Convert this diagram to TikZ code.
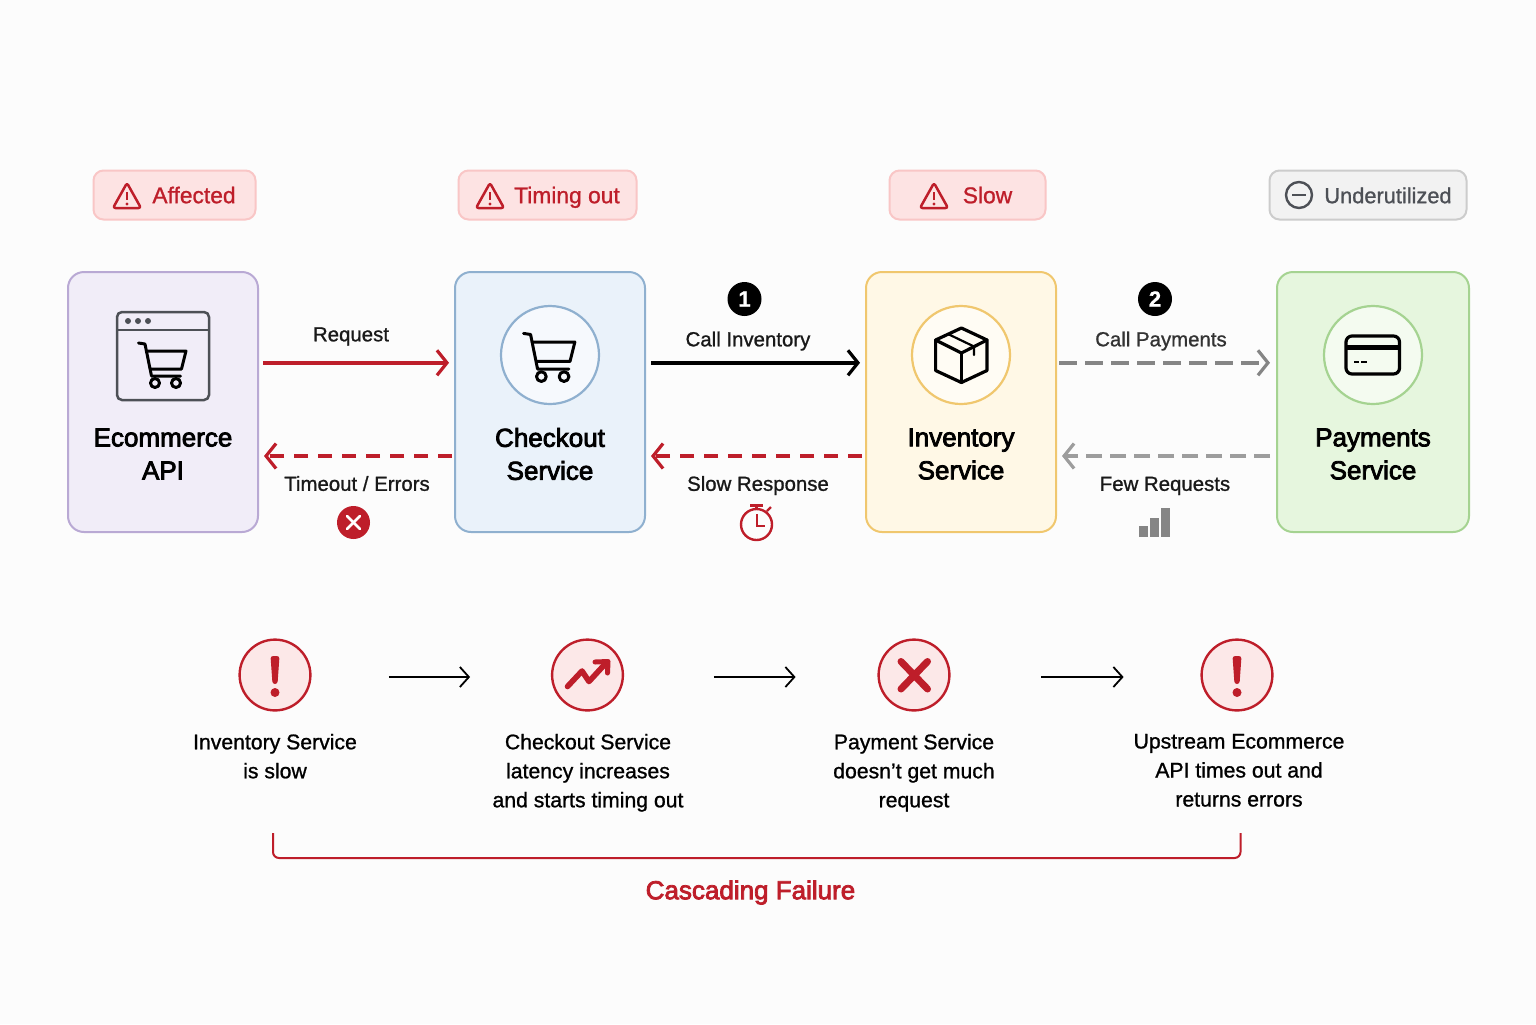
\documentclass[tikz,border=0pt]{standalone}
\usepackage{fontspec}
\usepackage{tikz}
\usetikzlibrary{arrows.meta}
\setmainfont{Liberation Sans}[FakeBold=1]
\newfontfamily\titlefont{Liberation Sans}[FakeBold=3]
\definecolor{alertred}{HTML}{BE1E2A}
\definecolor{softred}{HTML}{FCE8E8}
\definecolor{badgered}{HTML}{FDE3E3}
\definecolor{badgeline}{HTML}{F9C6C6}
\definecolor{midgray}{HTML}{858585}
\definecolor{inkgray}{HTML}{4D5056}
\definecolor{ecomfill}{HTML}{F1EDF8}
\definecolor{ecomline}{HTML}{B9A9D4}
\definecolor{chkfill}{HTML}{EAF2FA}
\definecolor{chkline}{HTML}{8FB0CF}
\definecolor{invfill}{HTML}{FFF8E6}
\definecolor{invline}{HTML}{F0C76E}
\definecolor{payfill}{HTML}{E6F6DE}
\definecolor{payline}{HTML}{A5D391}
\tikzset{
  servicebox/.style={draw, line width=1pt, rounded corners=8pt, minimum width=95pt, minimum height=130pt, inner sep=0pt, outer sep=0pt},
  iconring/.style={circle, draw, line width=1.1pt, minimum size=49pt, inner sep=0pt, outer sep=0pt},
  badge/.style={draw=badgeline, fill=badgered, line width=1pt, rounded corners=5pt, minimum height=24.5pt, inner sep=0pt, outer sep=0pt},
  badgetext/.style={text=alertred, text height=8.2pt, text depth=0pt, inner sep=0pt, font=\fontsize{11.4}{14}\selectfont},
  title/.style={align=center, text=black, font=\titlefont\fontsize{13}{16.5}\selectfont},
  linklabel/.style={text=black!90, text height=7.3pt, text depth=0pt, inner sep=0pt, font=\fontsize{10.2}{12}\selectfont},
  caption/.style={align=center, anchor=north, inner sep=0pt, text=black, font=\fontsize{10.6}{14.5}\selectfont, execute at begin node=\strut},
  stepmark/.style={circle, fill=black, text=white, minimum size=17pt, inner sep=0pt, font=\bfseries\fontsize{11}{12}\selectfont},
  alertring/.style={circle, draw=alertred, fill=softred, line width=1.2pt, minimum size=35.4pt, inner sep=0pt, outer sep=0pt},
  barb/.style={-{Straight Barb[length=5pt,width=12.5pt,line width=1.6pt]}, line width=1.8pt},
  thinbarb/.style={-{Straight Barb[length=4.5pt,width=10pt,line width=.9pt]}, line width=.9pt, black},
  glyph/.style={line width=1.5pt, line cap=round, line join=round}
}
\newcommand{\cartglyph}[3]{
  \begin{scope}[shift={(#1,#2)}, scale=#3]
    \draw[glyph, black] (-24.5,-20) -- (-18,-19) -- (-11.5,13) -- (17.5,13);
    \draw[glyph, black] (-16.5,-12) -- (23,-12) -- (18.5,6) -- (-12.5,6);
    \draw[glyph, black] (-8,20) circle (4.5);
    \draw[glyph, black] (13,20) circle (4.5);
  \end{scope}
}
\newcommand{\warnglyph}[2]{
  \begin{scope}[shift={(#1,#2)}]
    \draw[alertred, line width=1.25pt, rounded corners=1.2pt, line join=round] (0,-13) -- (14,12) -- (-14,12) -- cycle;
    \draw[alertred, line width=1.2pt] (0,-4) -- (0,4);
    \fill[alertred] (0,8) circle (1.7);
  \end{scope}
}
\newcommand{\exclglyph}[2]{
  \begin{scope}[shift={(#1,#2)}]
    \fill[alertred, rounded corners=1.3pt] (-4.5,-19) -- (4.5,-19) -- (2.5,9) -- (-2.5,9) -- cycle;
    \fill[alertred] (0,17.5) circle (4.5);
  \end{scope}
}
\begin{document}
\begin{tikzpicture}[x=0.5pt, y=-0.5pt]
  \fill[white!99!black] (0,0) rectangle (1536,1024);
  \useasboundingbox (0,0) rectangle (1536,1024);

  \node[name=affected, badge, minimum width=81pt] at (174.5,195){};
  \node[name=timing, badge, minimum width=89pt] at (547.5,195){};
  \node[name=slow, badge, minimum width=78pt] at (967.5,195){};
  \node[name=under, badge, draw=black!20, fill=black!5, minimum width=98.5pt] at (1368,195){};
  \warnglyph{127}{196}
  \warnglyph{490}{196}
  \warnglyph{934}{196}
  \draw[inkgray, line width=1.2pt] (1299,195) circle (13);
  \draw[inkgray, line width=1.2pt] (1292,195) -- (1306,195);
  \node[name=affectedtext, badgetext] at (194,195){Affected};
  \node[name=timingtext, badgetext] at (567,195){Timing out};
  \node[name=slowtext, badgetext] at (987.5,195){Slow};
  \node[name=undertext, badgetext, text=inkgray, font=\fontsize{10.9}{14}\selectfont] at (1388,195){Underutilized};

  \node[name=ecom, servicebox, draw=ecomline, fill=ecomfill] at (163,402){};
  \node[name=chk, servicebox, draw=chkline, fill=chkfill] at (550,402){};
  \node[name=inv, servicebox, draw=invline, fill=invfill] at (961,402){};
  \node[name=pay, servicebox, draw=payline, fill=payfill, minimum width=96pt] at (1373,402){};
  \node[name=ecomtitle, title] at (163,454){Ecommerce\\API};
  \node[name=chktitle, title] at (550,454){Checkout\\Service};
  \node[name=invtitle, title] at (961,454){Inventory\\Service};
  \node[name=paytitle, title] at (1373,454){Payments\\Service};

  \draw[inkgray, line width=1.25pt, rounded corners=2.5pt] (117,312) rectangle (209,400);
  \draw[inkgray, line width=1.25pt] (117,330) -- (209,330);
  \fill[inkgray] (128,321) circle (3);
  \fill[inkgray] (138,321) circle (3);
  \fill[inkgray] (148,321) circle (3);
  \cartglyph{163}{363}{1}

  \node[name=chkring, iconring, draw=chkline, fill=chkfill!45] at (550,355){};
  \cartglyph{550}{355}{1.08}
  \node[name=invring, iconring, draw=invline, fill=invfill!45] at (961,355){};
  \draw[glyph, black, line width=1.6pt] (961.4,328) -- (987,340) -- (987,370.5) -- (961.4,382.5) -- (935.6,370.5) -- (935.6,340) -- cycle;
  \draw[glyph, black, line width=1.6pt] (935.6,340) -- (961.4,353) -- (987,340);
  \draw[glyph, black, line width=1.6pt] (961.4,353) -- (961.4,382.5);
  \draw[glyph, black, line width=1.1pt] (948,334) -- (974,346.5) -- (974,355);
  \node[name=payring, iconring, draw=payline, fill=payfill!45] at (1373,355){};
  \draw[black, line width=1.6pt, rounded corners=3pt] (1346,336) rectangle (1399.5,374);
  \draw[black, line width=2.4pt] (1346,347.5) -- (1399.5,347.5);
  \draw[black, line width=1pt] (1354,362) -- (1359,362);
  \draw[black, line width=1pt] (1361,362) -- (1367,362);

  \draw[barb, alertred] ([shift={(2.5pt,19.6pt)}]ecom.east) -- ([shift={(-3pt,19.6pt)}]chk.west);
  \draw[barb, black] ([shift={(3pt,19.6pt)}]chk.east) -- ([shift={(-3pt,19.6pt)}]inv.west);
  \draw[barb, midgray, dash pattern=on 9pt off 4pt] ([shift={(1.5pt,19.6pt)}]inv.east) -- ([shift={(-3.5pt,19.6pt)}]pay.west);
  \draw[barb, alertred, dash pattern=on 7pt off 5pt] ([shift={(-1.5pt,-27pt)}]chk.west) -- ([shift={(3pt,-27pt)}]ecom.east);
  \draw[barb, alertred, dash pattern=on 7pt off 5pt] ([shift={(-2pt,-27pt)}]inv.west) -- ([shift={(3pt,-27pt)}]chk.east);
  \draw[barb, midgray!80, dash pattern=on 8pt off 4pt] ([shift={(-3.5pt,-27pt)}]pay.west) -- ([shift={(3pt,-27pt)}]inv.east);

  \node[name=requestlabel, linklabel] at (351,334){Request};
  \node[name=callinvlabel, linklabel] at (748,339){Call Inventory};
  \node[name=callpaylabel, linklabel, text=black!80] at (1161,339){Call Payments};
  \node[name=timeoutlabel, linklabel] at (357,483.5){Timeout / Errors};
  \node[name=slowlabel, linklabel] at (758,483.5){Slow Response};
  \node[name=fewlabel, linklabel] at (1165,483.5){Few Requests};
  \node[name=step1, stepmark] at (744.5,299){1};
  \node[name=step2, stepmark] at (1155,299){2};

  \fill[alertred] (353.5,522.5) circle (16.5);
  \draw[white, line width=1.3pt, line cap=round] (347,516) -- (360,529);
  \draw[white, line width=1.3pt, line cap=round] (347,529) -- (360,516);
  \draw[alertred, line width=1.2pt] (756.5,524.5) circle (15.5);
  \draw[alertred, line width=1.2pt] (750,505.5) -- (763,505.5);
  \draw[alertred, line width=1.2pt] (756.5,505.5) -- (756.5,509);
  \draw[alertred, line width=1.2pt] (767,511) -- (771,507);
  \draw[alertred, line width=1pt] (757,514) -- (757,526) -- (765,526);
  \fill[midgray] (1138.5,526) rectangle (1147.5,537);
  \fill[midgray] (1150,518) rectangle (1159,537);
  \fill[midgray] (1161,508) rectangle (1170,537);

  \node[name=fail1, alertring] at (275,675){};
  \node[name=fail2, alertring] at (587.5,675){};
  \node[name=fail3, alertring] at (914,675){};
  \node[name=fail4, alertring] at (1237,675){};
  \exclglyph{275}{675}
  \draw[alertred, line width=2.8pt, line join=round, line cap=round] (567.5,686.5) -- (582,671) -- (589,681.5) -- (606,663);
  \draw[alertred, line width=2.5pt, line join=round, line cap=round] (595,662) -- (608,661.5) -- (607.5,673);
  \draw[alertred, line width=3.5pt, line cap=round] (901,661.5) -- (927.5,689);
  \draw[alertred, line width=3.5pt, line cap=round] (901,689) -- (927.5,661.5);
  \exclglyph{1237}{675}

  \draw[thinbarb, shorten <=39.2pt, shorten >=41pt] ([yshift=-1pt]fail1.east) -- ([yshift=-1pt]fail2.west);
  \draw[thinbarb, shorten <=45.5pt, shorten >=41.5pt] ([yshift=-1pt]fail2.east) -- ([yshift=-1pt]fail3.west);
  \draw[thinbarb, shorten <=46pt, shorten >=39pt] ([yshift=-1pt]fail3.east) -- ([yshift=-1pt]fail4.west);

  \node[name=note1, caption] at (275,733.5){Inventory Service\\is slow};
  \node[name=note2, caption] at (588,733.5){Checkout Service\\latency increases\\and starts timing out};
  \node[name=note3, caption] at (914,733.5){Payment Service\\doesn’t get much\\request};
  \node[name=note4, caption] at (1239,733.5){Upstream Ecommerce\\API times out and\\returns errors};

  \coordinate (bracketleft) at (273,833);
  \coordinate (bracketright) at (1240.5,833);
  \draw[alertred, line width=1pt, rounded corners=3pt] (bracketleft) -- (273,858) -- (1240.5,858) -- (bracketright);
  \node[name=cascade, text=alertred, font=\titlefont\fontsize{13}{16}\selectfont] at (750.5,892.5){Cascading Failure};
\end{tikzpicture}
\end{document}
